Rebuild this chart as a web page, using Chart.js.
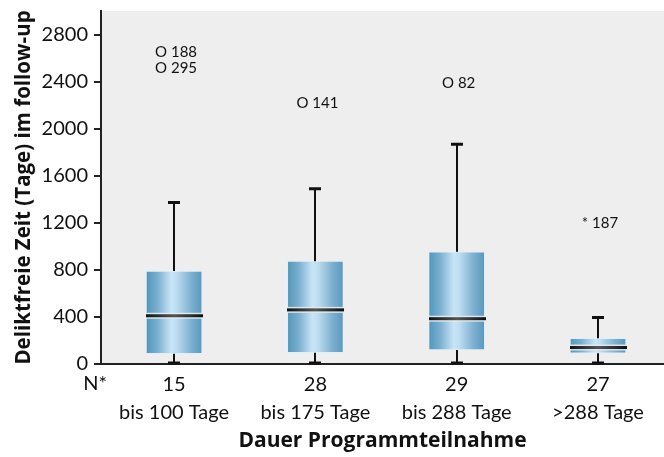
<!DOCTYPE html>
<html>
<head>
<meta charset="utf-8">
<script src="https://cdn.jsdelivr.net/npm/chart.js@4/dist/chart.umd.min.js"></script>
<style>
  html, body { margin: 0; padding: 0; background: #fff; }
  #wrap { width: 664px; height: 457px; }
</style>
</head>
<body>
<div id="wrap"><canvas id="boxChart" width="664" height="457"></canvas></div>
<script>
// Kategorien und Fallzahlen
const categories = ['bis 100 Tage', 'bis 175 Tage', 'bis 288 Tage', '>288 Tage'];
const nCounts = ['15', '28', '29', '27'];
const xPositions = [1, 2, 3, 4];

// Boxplot-Kennwerte (Tage)
const whiskerLow = [0, 0, 0, 0];
const q1 = [88, 96, 120, 92];
const median = [410, 460, 385, 140];
const q3 = [790, 874, 953, 218];
const whiskerHigh = [1372, 1490, 1867, 396];

// Ausreisser / Extremwerte
const outlierCat = [0, 0, 1, 2, 3];
const outlierValue = [2647, 2512, 2215, 2384, 1196];
const outlierLabel = ['O 188', 'O 295', 'O 141', 'O 82', '* 187'];

const yTicks = [0, 400, 800, 1200, 1600, 2000, 2400, 2800];

const FONT = 'Lato, "Open Sans", sans-serif';
const BOLD_FONT = '"Open Sans", Lato, sans-serif';

const boxPlugin = {
    id: 'boxExtras',
    beforeDraw(chart) {
        const { ctx, chartArea: a } = chart;
        ctx.save();
        ctx.fillStyle = '#eeeeee';
        ctx.fillRect(a.left, a.top, a.right - a.left, a.bottom - a.top);
        ctx.restore();
    },
    afterDatasetsDraw(chart) {
        const { ctx } = chart;
        const x = chart.scales.x;
        const y = chart.scales.y;
        const half = 28;
        ctx.save();
        xPositions.forEach((pos, i) => {
            const cx = Math.round(x.getPixelForValue(pos));
            // Whisker
            ctx.strokeStyle = '#111';
            ctx.lineWidth = 2;
            ctx.beginPath();
            ctx.moveTo(cx, y.getPixelForValue(q3[i]));
            ctx.lineTo(cx, y.getPixelForValue(whiskerHigh[i]));
            ctx.moveTo(cx, y.getPixelForValue(q1[i]));
            ctx.lineTo(cx, y.getPixelForValue(whiskerLow[i]));
            ctx.stroke();
            ctx.lineWidth = 3;
            ctx.beginPath();
            const hy = y.getPixelForValue(whiskerHigh[i]);
            const ly = y.getPixelForValue(whiskerLow[i]) - 1;
            ctx.moveTo(cx - 6, hy);
            ctx.lineTo(cx + 6, hy);
            ctx.moveTo(cx - 6, ly);
            ctx.lineTo(cx + 6, ly);
            ctx.stroke();
            // Median
            const my = y.getPixelForValue(median[i]);
            ctx.fillStyle = 'rgba(230,235,238,0.9)';
            ctx.fillRect(cx - half, my - 3, half * 2 + 2, 6);
            const g = ctx.createLinearGradient(cx - half, 0, cx + half, 0);
            g.addColorStop(0, '#111');
            g.addColorStop(0.5, '#555');
            g.addColorStop(1, '#111');
            ctx.fillStyle = g;
            ctx.fillRect(cx - half, my - 1.5, half * 2 + 1, 3);
        });
        // Ausreisser-Beschriftung
        ctx.fillStyle = '#111';
        ctx.font = '15px ' + FONT;
        ctx.textAlign = 'center';
        ctx.textBaseline = 'middle';
        outlierValue.forEach((v, k) => {
            const cx = x.getPixelForValue(xPositions[outlierCat[k]]);
            ctx.fillText(outlierLabel[k], cx + 2, y.getPixelForValue(v));
        });
        // N*
        ctx.font = '20px ' + FONT;
        ctx.textAlign = 'right';
        ctx.textBaseline = 'middle';
        ctx.fillText('N*', chart.chartArea.left + 6, chart.chartArea.bottom + 20);
        ctx.restore();
    }
};

function boxFill(context) {
    const chart = context.chart;
    if (!chart.chartArea || !chart.scales.x) return '#8fc0dc';
    const cx = chart.scales.x.getPixelForValue(xPositions[context.dataIndex]);
    const g = chart.ctx.createLinearGradient(cx - 28, 0, cx + 28, 0);
    g.addColorStop(0, '#5196bb');
    g.addColorStop(0.2, '#79afcf');
    g.addColorStop(0.45, '#c8e5f7');
    g.addColorStop(0.55, '#bcdcf0');
    g.addColorStop(0.8, '#7db1d0');
    g.addColorStop(1, '#5898bd');
    return g;
}

new Chart(document.getElementById('boxChart'), {
    type: 'bar',
    data: {
        datasets: [{
            data: xPositions.map((p, i) => ({ x: p, y: [q1[i], q3[i]] })),
            backgroundColor: boxFill,
            borderColor: 'rgba(225,238,245,0.9)',
            borderWidth: 1,
            borderSkipped: false,
            barThickness: 56
        }]
    },
    options: {
        responsive: false,
        animation: false,
        layout: { padding: { top: 11, right: 0, left: 0, bottom: 0 } },
        plugins: {
            legend: { display: false },
            tooltip: { enabled: false }
        },
        scales: {
            x: {
                type: 'linear',
                offset: false,
                min: 0.483,
                max: 4.467,
                afterBuildTicks: axis => { axis.ticks = xPositions.map(v => ({ value: v })); },
                afterFit: axis => { axis.height = 93; axis.paddingLeft = 0; axis.paddingRight = 0; },
                grid: { display: false, drawTicks: false, offset: false },
                border: { display: true, color: '#222', width: 2 },
                ticks: {
                    color: '#111',
                    font: { family: FONT, size: 20, lineHeight: 1.4 },
                    padding: 7,
                    maxRotation: 0,
                    callback: (v, idx) => [nCounts[idx], categories[idx]]
                },
                title: {
                    display: true,
                    text: 'Dauer Programmteilnahme',
                    color: '#111',
                    font: { family: BOLD_FONT, size: 21, weight: 'bold' },
                    padding: { top: 0, bottom: 3 }
                }
            },
            y: {
                min: 0,
                max: 3000,
                afterBuildTicks: axis => { axis.ticks = yTicks.map(v => ({ value: v })); },
                afterFit: axis => { axis.width = 101; axis.paddingTop = 0; axis.paddingBottom = 0; },
                grid: { drawOnChartArea: false, drawTicks: true, tickLength: 7, color: '#222', lineWidth: 2 },
                border: { display: true, color: '#222', width: 2 },
                ticks: {
                    color: '#111',
                    font: { family: FONT, size: 20 },
                    padding: 6,
                    callback: v => String(v)
                },
                title: {
                    display: true,
                    text: 'Deliktfreie Zeit (Tage) im follow-up',
                    color: '#111',
                    font: { family: BOLD_FONT, size: 20.5, weight: 'bold' },
                    padding: { top: 12, bottom: 0 }
                }
            }
        }
    },
    plugins: [boxPlugin]
});
</script>
</body>
</html>
